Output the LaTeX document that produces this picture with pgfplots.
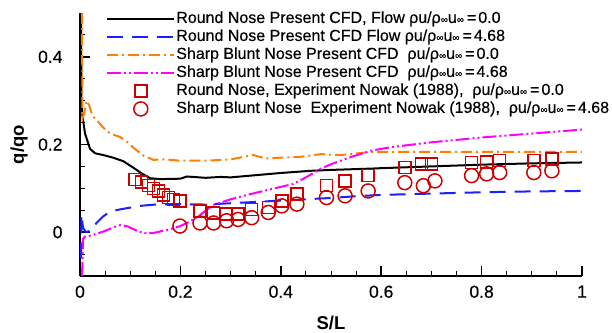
\documentclass[border=0pt]{standalone}
\usepackage{pgfplots}
\pgfplotsset{compat=1.18}
\usepackage{fontspec}
\setmainfont{Liberation Sans}
\newfontfamily\semib[FakeBold=0.4]{Liberation Sans}
\definecolor{cfdorange}{RGB}{255,128,0}
\definecolor{cfdblue}{RGB}{30,30,255}
\definecolor{cfdmag}{RGB}{255,0,255}
\definecolor{expred}{RGB}{204,0,0}
\newcommand{\infsym}{{\fontsize{10}{10}\selectfont ∞}}
\newcommand{\rr}[1]{ρu/ρ\infsym u\infsym\hspace{3pt}=\hspace{2pt}#1}
\pgfplotsset{mylegimg/.style={legend image code/.code={\draw[mark repeat=2,mark phase=2,##1] plot coordinates {(0pt,0pt) (33.5pt,0pt) (67pt,0pt)};}}}
\begin{document}
\begin{tikzpicture}
\begin{axis}[
  scale only axis, width=502pt, height=263pt,
  xmin=0, xmax=1, ymin=-0.1, ymax=0.5,
  axis x line*=bottom, axis y line*=left,
  axis line style={line width=2pt},
  xtick={0,0.2,0.4,0.6,0.8,1},
  minor xtick={0.05,0.1,0.15,0.25,0.3,0.35,0.45,0.5,0.55,0.65,0.7,0.75,0.85,0.9,0.95},
  ytick={0,0.2,0.4},
  minor ytick={-0.05,0.05,0.1,0.15,0.25,0.3,0.35,0.45},
  tick align=inside, major tick length=10pt, minor tick length=5pt,
  major tick style={line width=1.6pt, black},
  minor tick style={line width=1pt, black},
  /pgf/number format/assume math mode=true,
  tick label style={font=\semib\fontsize{17.5}{17.5}\selectfont},
  xticklabel style={yshift=-6pt},
  yticklabel style={xshift=-14pt},
  xlabel={S/L}, ylabel={q/qo},
  label style={font=\fontsize{18.5}{18.5}\selectfont\bfseries},
  xlabel style={at={(rel axis cs:0.5,-0.179)}, anchor=center},
  ylabel style={at={(rel axis cs:-0.1215,0.5)}, anchor=center},
  legend style={draw=none, fill=none, at={(rel axis cs:0.046,1.02)}, anchor=north west,
    font=\semib\fontsize{16}{18}\selectfont, row sep=0pt,
    nodes={text height=12pt, text depth=4pt, inner sep=1pt}},
  legend cell align=left,
  mylegimg,
]
\coordinate (bl) at (rel axis cs:0,0);
\coordinate (tr) at (rel axis cs:1,1);
% Round nose CFD 0.0
\addplot[black, line width=2pt] coordinates {
(0.002,0.5) (0.003,0.3) (0.005,0.265) (0.01,0.225) (0.02,0.19) (0.03,0.18) (0.046,0.176)
(0.066,0.17) (0.086,0.162) (0.105,0.148) (0.123,0.134) (0.14,0.123) (0.16,0.121) (0.2,0.122)
(0.213,0.127) (0.25,0.124) (0.28,0.126) (0.3,0.125) (0.35,0.13) (0.4,0.135) (0.46,0.14)
(0.5,0.142) (0.58,0.145) (0.6,0.146) (0.7,0.15) (0.8,0.154) (0.9,0.157) (1.0,0.159)};
\addlegendentry{Round Nose Present CFD, Flow \rr{0.0}}
% Round nose CFD 4.68
\addplot[cfdblue, line width=2pt, dash pattern=on 16pt off 9pt] coordinates {
(0.002,-0.06) (0.003,0.04) (0.006,0.01) (0.012,0.0) (0.02,0.003) (0.033,0.021) (0.045,0.035)
(0.06,0.047) (0.08,0.052) (0.1,0.056) (0.12,0.06) (0.15,0.063) (0.2,0.064) (0.25,0.063)
(0.3,0.066) (0.35,0.069) (0.4,0.072) (0.45,0.075) (0.5,0.078) (0.55,0.082) (0.6,0.085)
(0.7,0.088) (0.8,0.091) (0.9,0.093) (1.0,0.094)};
\addlegendentry{Round Nose Present CFD Flow \rr{4.68}}
% Sharp blunt CFD 0.0
\addplot[cfdorange, line width=2pt, dash pattern=on 11pt off 4pt on 2pt off 4pt] coordinates {
(0.004,0.5) (0.005,0.26) (0.008,0.27) (0.013,0.3) (0.018,0.29) (0.025,0.265) (0.034,0.255)
(0.045,0.24) (0.06,0.225) (0.08,0.217) (0.095,0.205) (0.106,0.193) (0.126,0.175) (0.146,0.165)
(0.17,0.166) (0.2,0.163) (0.25,0.163) (0.3,0.166) (0.345,0.176) (0.37,0.168) (0.4,0.17)
(0.44,0.172) (0.48,0.178) (0.52,0.176) (0.58,0.183) (0.65,0.183) (0.75,0.183) (0.85,0.183) (1.0,0.183)};
\addlegendentry{Sharp Blunt Nose Present CFD \ \rr{0.0}}
% Sharp blunt CFD 4.68
\addplot[cfdmag, line width=2pt, dash pattern=on 14pt off 3pt on 2pt off 3pt on 2pt off 3pt] coordinates {
(0.004,-0.1) (0.005,-0.06) (0.006,-0.015) (0.01,-0.01) (0.02,-0.008) (0.035,-0.003) (0.05,0.003)
(0.065,0.01) (0.08,0.016) (0.095,0.013) (0.11,0.005) (0.126,-0.002) (0.146,-0.002) (0.165,0.003)
(0.18,0.007) (0.2,0.014) (0.22,0.025) (0.24,0.04) (0.265,0.062) (0.3,0.075) (0.34,0.087)
(0.38,0.098) (0.425,0.11) (0.45,0.125) (0.48,0.145) (0.5,0.155) (0.544,0.173) (0.58,0.186)
(0.62,0.194) (0.7,0.205) (0.8,0.216) (0.9,0.225) (1.0,0.234)};
\addlegendentry{Sharp Blunt Nose Present CFD \ \rr{4.68}}
% Round nose experiment
\addplot[only marks, mark=square, mark size=6pt, expred, line width=1.5pt, mylegimg] coordinates {
(0.110,0.120) (0.123,0.115) (0.136,0.106) (0.146,0.100) (0.156,0.094) (0.166,0.085) (0.176,0.079)
(0.186,0.075) (0.199,0.071) (0.239,0.048) (0.266,0.044) (0.292,0.041) (0.315,0.041) (0.342,0.052)
(0.375,0.056) (0.402,0.071) (0.432,0.087) (0.491,0.106) (0.528,0.117) (0.574,0.129) (0.647,0.148)
(0.680,0.156) (0.700,0.156) (0.780,0.159) (0.810,0.160) (0.836,0.163) (0.904,0.163) (0.940,0.167)};
\addlegendentry{Round Nose, Experiment Nowak (1988), \ \rr{0.0}}
% Sharp blunt experiment
\addplot[only marks, mark=o, mark size=7pt, expred, line width=1.5pt, mylegimg] coordinates {
(0.199,0.014) (0.239,0.021) (0.266,0.021) (0.292,0.026) (0.315,0.029) (0.342,0.033) (0.375,0.045)
(0.402,0.060) (0.432,0.064) (0.491,0.079) (0.528,0.083) (0.574,0.094) (0.647,0.113) (0.684,0.106)
(0.707,0.117) (0.780,0.129) (0.810,0.133) (0.836,0.136) (0.904,0.136) (0.940,0.140)};
\addlegendentry{Sharp Blunt Nose \ Experiment Nowak (1988), \ \rr{4.68}}
\end{axis}
\pgfresetboundingbox
\path ([shift={(-80pt,-57pt)}]bl) rectangle ([shift={(30pt,13pt)}]tr);
\end{tikzpicture}
\end{document}
